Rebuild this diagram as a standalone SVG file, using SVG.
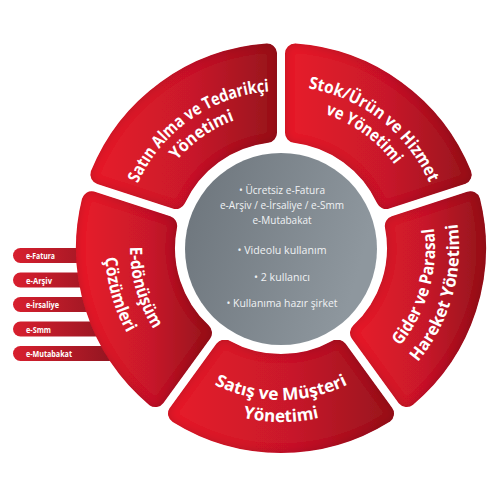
<svg xmlns="http://www.w3.org/2000/svg" width="500" height="500" viewBox="0 0 500 500">
<defs>
<linearGradient id="gRed" x1="0" y1="0" x2="1" y2="0">
<stop offset="0" stop-color="#e51c2c"/>
<stop offset="0.55" stop-color="#c8192a"/>
<stop offset="1" stop-color="#9c141e"/>
</linearGradient>
<linearGradient id="gTag" x1="0" y1="0" x2="1" y2="0">
<stop offset="0" stop-color="#d81f2e"/>
<stop offset="1" stop-color="#8e1520"/>
</linearGradient>
<linearGradient id="gGrey" x1="0" y1="0" x2="1" y2="0.3">
<stop offset="0" stop-color="#6c747b"/>
<stop offset="1" stop-color="#8e979e"/>
</linearGradient>
<filter id="bevel" x="-10%" y="-10%" width="120%" height="120%">
<feGaussianBlur in="SourceAlpha" stdDeviation="4" result="blur"/>
<feComposite in="SourceAlpha" in2="blur" operator="arithmetic" k2="1" k3="-1" result="edge"/>
<feFlood flood-color="#4a0006" flood-opacity="0.4"/>
<feComposite in2="edge" operator="in" result="shadow"/>
<feMerge><feMergeNode in="SourceGraphic"/><feMergeNode in="shadow"/></feMerge>
</filter>
<path id="pSat1" d="M124.60,261.68 A157,157 0 0 1 347.35,105.71"/>
<path id="pSat2" d="M145.52,259.85 A136,136 0 0 1 338.48,124.74"/>
<path id="pStk1" d="M220.31,97.80 A162,162 0 0 1 441.42,270.55"/>
<path id="pStk2" d="M223.65,119.19 A141,141 0 0 1 421.23,262.74"/>
<path id="pGid1" d="M318.26,397.43 A154,154 0 0 0 391.78,141.02"/>
<path id="pGid2" d="M324.06,420.71 A178,178 0 0 0 409.04,124.35"/>
<path id="pSts1" d="M149.36,324 A152,152 0 0 0 412.64,324"/>
<path id="pSts2" d="M130.31,335 A174,174 0 0 0 431.69,335"/>
<path id="pEd1" d="M172.38,143.11 A151,151 0 0 0 244.47,394.52"/>
<path id="pEd2" d="M154.40,125.74 A176,176 0 0 0 238.42,418.77"/>
</defs>
<style>
.seg{fill:url(#gRed);stroke:url(#gRed);stroke-width:20;stroke-linejoin:round;filter:url(#bevel)}
.segt{font-family:"Open Sans","Liberation Sans",sans-serif;font-weight:bold;font-size:17px;fill:#ffffff;text-anchor:middle}
.tag{fill:url(#gTag)}
.tagt{font-family:"Open Sans","Liberation Sans",sans-serif;font-weight:bold;font-size:9px;fill:#ffffff}
.ct{font-family:"Open Sans","Liberation Sans",sans-serif;font-size:11.5px;fill:#f0f2f4;text-anchor:middle}
</style>
<rect width="500" height="500" fill="#ffffff"/>
<g id="tags">
<g id="tag-efatura"><rect class="tag" x="13" y="248" width="105" height="15" rx="7.5"/><text class="tagt" x="26" y="259" textLength="29" lengthAdjust="spacingAndGlyphs">e-Fatura</text></g>
<g id="tag-earsiv"><rect class="tag" x="13" y="272.5" width="105" height="15" rx="7.5"/><text class="tagt" x="26" y="283.5" textLength="26" lengthAdjust="spacingAndGlyphs">e-Arşiv</text></g>
<g id="tag-eirsaliye"><rect class="tag" x="13" y="297" width="105" height="15" rx="7.5"/><text class="tagt" x="26" y="308" textLength="33" lengthAdjust="spacingAndGlyphs">e-İrsaliye</text></g>
<g id="tag-esmm"><rect class="tag" x="13" y="321.5" width="105" height="15" rx="7.5"/><text class="tagt" x="26" y="332.5" textLength="25" lengthAdjust="spacingAndGlyphs">e-Smm</text></g>
<g id="tag-emutabakat"><rect class="tag" x="13" y="346" width="105" height="15" rx="7.5"/><text class="tagt" x="26" y="357" textLength="46" lengthAdjust="spacingAndGlyphs">e-Mutabakat</text></g>
</g>
<g id="seg-satin">
<path class="seg" d="M100.35,174.57 A195,195 0 0 1 266.99,53.50 L267.00,132.85 A116,116 0 0 0 175.81,199.10 Z"/>
<text class="segt"><textPath href="#pSat1" startOffset="50%" textLength="168" lengthAdjust="spacingAndGlyphs">Satın Alma ve Tedarikçi</textPath></text>
<text class="segt"><textPath href="#pSat2" startOffset="50%" textLength="71" lengthAdjust="spacingAndGlyphs">Yönetimi</textPath></text>
</g>
<g id="seg-stok">
<path class="seg" d="M295.01,53.50 A195,195 0 0 1 461.65,174.57 L386.19,199.10 A116,116 0 0 0 295.00,132.85 Z"/>
<text class="segt"><textPath href="#pStk1" startOffset="50%" textLength="160" lengthAdjust="spacingAndGlyphs">Stok/Ürün ve Hizmet</textPath></text>
<text class="segt"><textPath href="#pStk2" startOffset="50%" textLength="87" lengthAdjust="spacingAndGlyphs">ve Yönetimi</textPath></text>
</g>
<g id="seg-gider">
<path class="seg" d="M470.31,201.22 A195,195 0 0 1 406.66,397.11 L360.01,332.93 A116,116 0 0 0 394.84,225.73 Z"/>
<text class="segt"><textPath href="#pGid1" startOffset="50%" textLength="126" lengthAdjust="spacingAndGlyphs">Gider ve Parasal</textPath></text>
<text class="segt"><textPath href="#pGid2" startOffset="50%" textLength="148" lengthAdjust="spacingAndGlyphs">Hareket Yönetimi</textPath></text>
</g>
<g id="seg-satis">
<path class="seg" d="M383.99,413.59 A195,195 0 0 1 178.01,413.59 L224.64,349.39 A116,116 0 0 0 337.36,349.39 Z"/>
<text class="segt"><textPath href="#pSts1" startOffset="50%" textLength="138" lengthAdjust="spacingAndGlyphs">Satış ve Müşteri</textPath></text>
<text class="segt"><textPath href="#pSts2" startOffset="50%" textLength="77" lengthAdjust="spacingAndGlyphs">Yönetimi</textPath></text>
</g>
<g id="seg-edonusum">
<path class="seg" d="M155.34,397.11 A195,195 0 0 1 91.69,201.22 L167.16,225.73 A116,116 0 0 0 201.99,332.93 Z"/>
<text class="segt"><textPath href="#pEd1" startOffset="50%" textLength="87" lengthAdjust="spacingAndGlyphs">E-dönüşüm</textPath></text>
<text class="segt"><textPath href="#pEd2" startOffset="50%" textLength="79" lengthAdjust="spacingAndGlyphs">Çözümleri</textPath></text>
</g>
<g id="center">
<circle cx="281" cy="249" r="96" fill="url(#gGrey)"/>
<text class="ct" x="282" y="194" textLength="86" lengthAdjust="spacingAndGlyphs">• Ücretsiz e-Fatura</text>
<text class="ct" x="282" y="209" textLength="124" lengthAdjust="spacingAndGlyphs">e-Arşiv / e-İrsaliye / e-Smm</text>
<text class="ct" x="282" y="224" textLength="59" lengthAdjust="spacingAndGlyphs">e-Mutabakat</text>
<text class="ct" x="282" y="254" textLength="89" lengthAdjust="spacingAndGlyphs">• Videolu kullanım</text>
<text class="ct" x="282" y="281" textLength="56" lengthAdjust="spacingAndGlyphs">• 2 kullanıcı</text>
<text class="ct" x="282" y="307" textLength="111" lengthAdjust="spacingAndGlyphs">• Kullanıma hazır şirket</text>
</g>
</svg>
